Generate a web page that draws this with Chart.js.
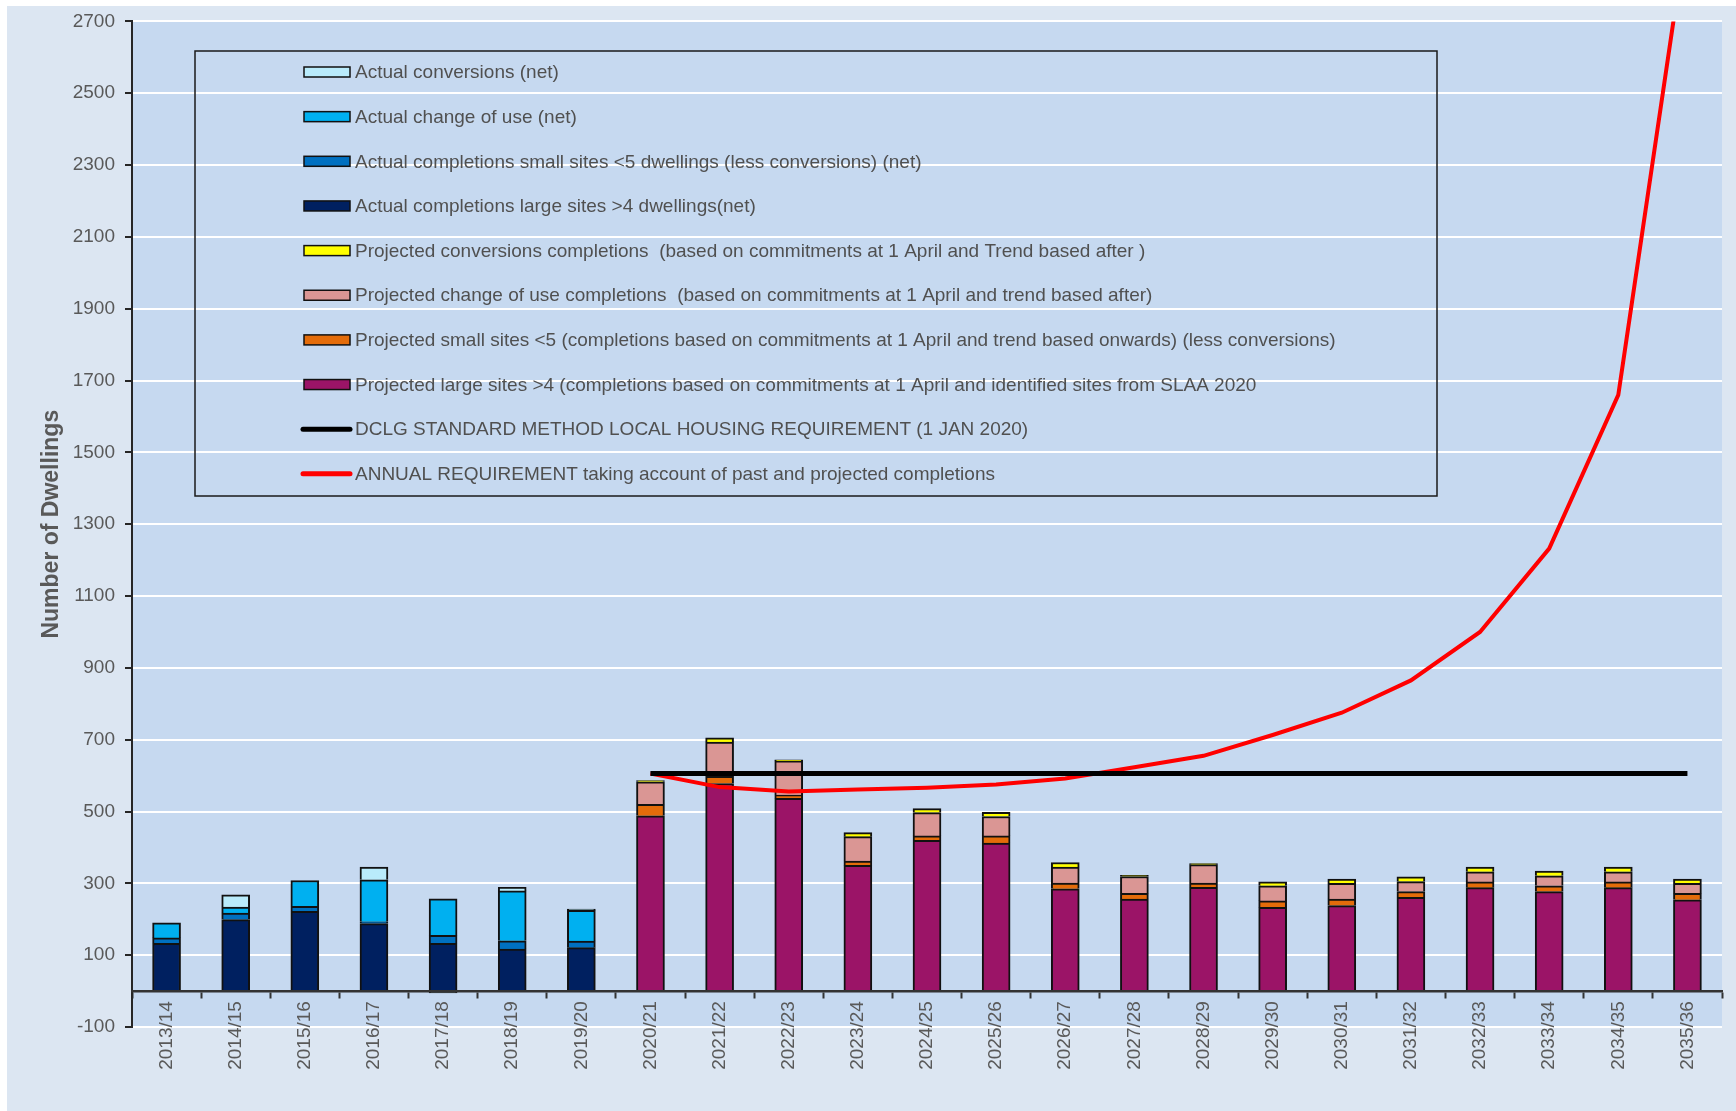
<!DOCTYPE html>
<html>
<head>
<meta charset="utf-8">
<title>Housing trajectory</title>
<script src="https://cdn.jsdelivr.net/npm/chart.js@4.4.1/dist/chart.umd.min.js"></script>
<style>
  html, body { margin: 0; padding: 0; background: #ffffff; }
  #wrap { width: 1736px; height: 1111px; }
</style>
</head>
<body>
<div id="wrap"><canvas id="chartCanvas" width="1736" height="1111"></canvas></div>
<script>
const categories = ['2013/14', '2014/15', '2015/16', '2016/17', '2017/18', '2018/19', '2019/20',
  '2020/21', '2021/22', '2022/23', '2023/24', '2024/25', '2025/26', '2026/27', '2027/28',
  '2028/29', '2029/30', '2030/31', '2031/32', '2032/33', '2033/34', '2034/35', '2035/36'];

// actual completions (2013/14 - 2019/20)
const actualLarge       = [133, 199, 222, 188, 133, 117, 121, null, null, null, null, null, null, null, null, null, null, null, null, null, null, null, null];
const actualSmall       = [15, 18, 14, 5, 22, 23, 18, null, null, null, null, null, null, null, null, null, null, null, null, null, null, null, null];
const actualChangeOfUse = [42, 17, 72, 117, 102, 139, 86, null, null, null, null, null, null, null, null, null, null, null, null, null, null, null, null];
const actualConversions = [0, 34, 0, 35, -5, 10, 3, null, null, null, null, null, null, null, null, null, null, null, null, null, null, null, null];

// projected completions (2020/21 onwards)
const projectedLarge       = [null, null, null, null, null, null, null, 488, 578, 537, 350, 420, 412, 285, 256, 289, 233, 238, 261, 288, 277, 288, 254];
const projectedSmall       = [null, null, null, null, null, null, null, 32, 20, 9, 12, 12, 20, 16, 16, 12, 18, 18, 16, 16, 16, 16, 18];
const projectedChangeOfUse = [null, null, null, null, null, null, null, 63, 95, 95, 68, 65, 54, 44, 47, 51, 42, 44, 28, 28, 28, 28, 28];
const projectedConversions = [null, null, null, null, null, null, null, 3, 12, 3, 11, 11, 12, 13, 3, 3, 11, 12, 13, 13, 13, 13, 12];

const dclgRequirement   = [null, null, null, null, null, null, null, 606, 606, 606, 606, 606, 606, 606, 606, 606, 606, 606, 606, 606, 606, 606, 606];
const annualRequirement = [null, null, null, null, null, null, null, 606, 568, 556, 561, 566, 575, 592, 623, 655, 713, 775, 865, 1000, 1232, 1660, 2965];

const yTicks = [-100, 100, 300, 500, 700, 900, 1100, 1300, 1500, 1700, 1900, 2100, 2300, 2500, 2700];

const seriesLabels = [
  'Actual completions large sites >4 dwellings(net)',
  'Actual completions small sites <5 dwellings (less conversions) (net)',
  'Actual change of use (net)',
  'Actual conversions (net)',
  'Projected large sites >4 (completions based on commitments at 1 April and identified sites from SLAA 2020',
  'Projected small sites <5 (completions based on commitments at 1 April and trend based onwards) (less conversions)',
  'Projected change of use completions  (based on commitments at 1 April and trend based after)',
  'Projected conversions completions  (based on commitments at 1 April and Trend based after )',
  'DCLG STANDARD METHOD LOCAL HOUSING REQUIREMENT (1 JAN 2020)',
  'ANNUAL REQUIREMENT taking account of past and projected completions'
];
// legend lists the stacks top-down, then the two lines
const legendOrder = [3, 2, 1, 0, 7, 6, 5, 4, 8, 9];

Chart.defaults.font.family = "'Liberation Sans', Arial, sans-serif";

function barSet(label, data, color) {
  return {
    type: 'bar',
    label: label,
    data: data,
    backgroundColor: color,
    borderColor: '#111111',
    borderWidth: 2,
    barThickness: 28,
    stack: 'dwellings',
    order: 1
  };
}

function lineSet(label, data, color, width) {
  return {
    type: 'line',
    label: label,
    data: data,
    borderColor: color,
    borderWidth: width,
    pointRadius: 0,
    tension: 0,
    stack: label,   // own stack, so lines are not added up
    order: 0
  };
}

const backgroundPlugin = {
  id: 'backgrounds',
  beforeDraw(chart) {
    const { ctx, chartArea: a, width, height } = chart;
    ctx.save();
    ctx.fillStyle = '#ffffff';
    ctx.fillRect(0, 0, width, height);
    ctx.fillStyle = '#dce6f2';
    ctx.fillRect(7, 6, width - 7, height - 6);
    ctx.fillStyle = '#c6d9f0';
    ctx.fillRect(a.left, a.top, a.right - a.left, a.bottom - a.top);
    ctx.restore();
  }
};

const legendBoxPlugin = {
  id: 'legendBox',
  afterDatasetsDraw(chart) {
    const ctx = chart.ctx;
    const box = { left: 195, top: 51, right: 1437, bottom: 496 };
    ctx.save();
    ctx.strokeStyle = '#1a1a1a';
    ctx.lineWidth = 1.5;
    ctx.strokeRect(box.left, box.top, box.right - box.left, box.bottom - box.top);
    ctx.font = "19px 'Liberation Sans', Arial, sans-serif";
    ctx.textBaseline = 'middle';
    ctx.textAlign = 'left';
    legendOrder.forEach((di, row) => {
      const ds = chart.data.datasets[di];
      const y = 72 + row * 44.65;
      if (ds.type === 'line') {
        ctx.strokeStyle = ds.borderColor;
        ctx.lineWidth = 5;
        ctx.lineCap = 'round';
        ctx.beginPath();
        ctx.moveTo(303, y);
        ctx.lineTo(350, y);
        ctx.stroke();
      } else {
        ctx.fillStyle = ds.backgroundColor;
        ctx.fillRect(304, y - 5, 46, 10);
        ctx.strokeStyle = '#111111';
        ctx.lineWidth = 1.5;
        ctx.strokeRect(304, y - 5, 46, 10);
      }
      ctx.fillStyle = '#505050';
      ctx.fillText(ds.label, 355, y + 1);
    });
    ctx.restore();
  }
};

new Chart(document.getElementById('chartCanvas').getContext('2d'), {
  type: 'bar',
  data: {
    labels: categories,
    datasets: [
      barSet(seriesLabels[0], actualLarge, '#002060'),
      barSet(seriesLabels[1], actualSmall, '#0070c0'),
      barSet(seriesLabels[2], actualChangeOfUse, '#00b0f0'),
      barSet(seriesLabels[3], actualConversions, '#b9ebfb'),
      barSet(seriesLabels[4], projectedLarge, '#9b1467'),
      barSet(seriesLabels[5], projectedSmall, '#e46c0a'),
      barSet(seriesLabels[6], projectedChangeOfUse, '#da9694'),
      barSet(seriesLabels[7], projectedConversions, '#ffff00'),
      lineSet(seriesLabels[8], dclgRequirement, '#000000', 5),
      lineSet(seriesLabels[9], annualRequirement, '#ff0000', 4)
    ]
  },
  options: {
    responsive: false,
    devicePixelRatio: 1,
    animation: false,
    layout: { padding: { top: 18, right: 14, bottom: 84, left: 0 } },
    plugins: {
      legend: { display: false },
      tooltip: { enabled: false }
    },
    scales: {
      x: {
        stacked: true,
        position: { y: 0 },
        grid: {
          drawOnChartArea: false,
          drawTicks: true,
          tickLength: 6,
          tickWidth: 2,
          tickColor: '#333333',
          offset: true
        },
        border: { color: '#333333', width: 2.5, z: 1 },
        ticks: {
          autoSkip: false,
          minRotation: 90,
          maxRotation: 90,
          padding: 4,
          color: '#595959',
          font: { size: 19 }
        }
      },
      y: {
        stacked: true,
        min: -100,
        max: 2700,
        afterBuildTicks(scale) {
          scale.ticks = yTicks.map(v => ({ value: v }));
        },
        afterFit(scale) {
          scale.width = 132;
        },
        grid: {
          color: '#ffffff',
          lineWidth: 2,
          tickLength: 7,
          tickWidth: 2,
          tickColor: '#262626'
        },
        border: { color: '#262626', width: 2 },
        ticks: {
          padding: 10,
          color: '#595959',
          font: { size: 19 },
          callback: v => String(v)
        },
        title: {
          display: true,
          text: 'Number of Dwellings',
          color: '#595959',
          font: { size: 23, weight: 'bold' },
          padding: { top: 38, bottom: 0 }
        }
      }
    }
  },
  plugins: [backgroundPlugin, legendBoxPlugin]
});
</script>
</body>
</html>
